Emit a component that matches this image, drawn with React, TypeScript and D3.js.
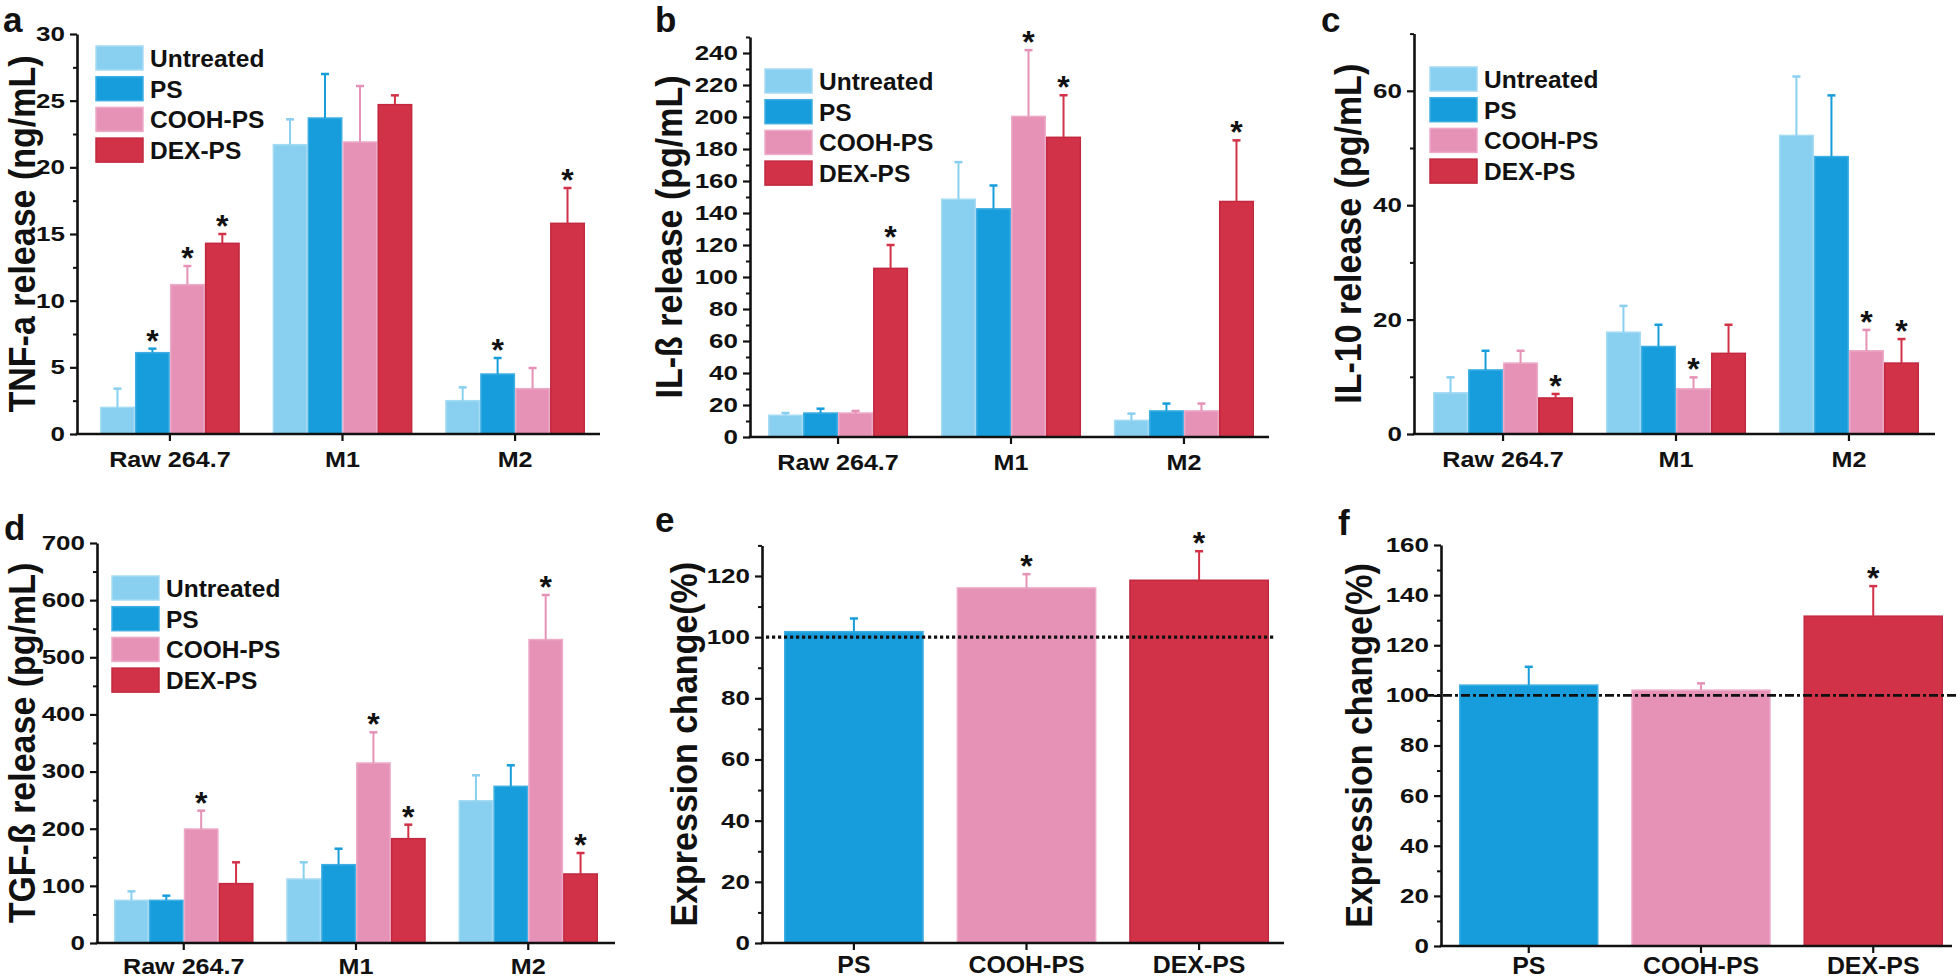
import React, { useEffect, useRef } from "react";
import * as d3 from "d3";

const groups = ["Raw 264.7", "M1", "M2"];
const treatments = ["Untreated", "PS", "COOH-PS", "DEX-PS"];
const fills = ["#89CFF0", "#179DDB", "#E592B6", "#D13248"];
const edges = ["#A6DBF4", "#3FAFE3", "#EEABC8", "#C22840"];

// a: TNF-a, rows = groups, cols = treatments
const tnfMean = [[2.0, 6.1, 11.2, 14.3], [21.7, 23.7, 21.9, 24.7], [2.5, 4.5, 3.4, 15.8]];
const tnfErr = [[1.4, 0.3, 1.4, 0.7], [1.9, 3.3, 4.2, 0.7], [1.0, 1.2, 1.55, 2.65]];
const tnfSig = [[0, 1, 1, 1], [0, 0, 0, 0], [0, 1, 0, 1]];

// b: IL-ß
const ilbMean = [[13.6, 15, 15, 105.4], [148.6, 142.6, 200.4, 187.3], [10.4, 16.3, 16.3, 147.2]];
const ilbErr = [[1.4, 2.7, 1.3, 14.6], [23.2, 14.6, 41.4, 26.3], [4.2, 4.6, 4.6, 38.2]];
const ilbSig = [[0, 0, 0, 1], [0, 0, 1, 1], [0, 0, 0, 1]];

// c: IL-10
const il10Mean = [[7.2, 11.2, 12.4, 6.3], [17.8, 15.3, 7.9, 14.1], [52.2, 48.5, 14.55, 12.4]];
const il10Err = [[2.7, 3.35, 2.15, 0.7], [4.6, 3.8, 2.0, 5.0], [10.3, 10.7, 3.65, 4.2]];
const il10Sig = [[0, 0, 0, 1], [0, 0, 1, 0], [0, 0, 1, 1]];

// d: TGF-ß
const tgfMean = [[74.7, 74.7, 199.5, 103.9], [112, 137.1, 315, 182.6], [249, 274.2, 531, 120.8]];
const tgfErr = [[15.7, 8.1, 32.1, 37.3], [29.2, 27.9, 53.7, 24.5], [44.5, 36.8, 78, 36.7]];
const tgfSig = [[0, 0, 1, 0], [0, 0, 1, 1], [0, 0, 1, 1]];

// e, f: expression change
const expCats = ["PS", "COOH-PS", "DEX-PS"];
const expColor = [1, 2, 3];
const eMean = [101.8, 116.1, 118.6];
const eErr = [4.3, 4.5, 9.5];
const eSig = [0, 1, 1];
const fMean = [104.1, 102.1, 131.6];
const fErr = [7.3, 2.7, 12.0];
const fSig = [0, 0, 1];

const FONT = "'Liberation Sans', Arial, sans-serif";

const panels = [
  { letter: "a", title: "TNF-a release (ng/mL)", cats: groups, mean: tnfMean, err: tnfErr, sig: tnfSig, grouped: true,
    max: 30, major: 5, minor: 2.5, x0: 77, x1: 600, y0: 434, yTop: 34, band: [100, 585], legend: [96, 46],
    titleX: 35, letterX: 3, letterY: 32, labelY: 33 },
  { letter: "b", title: "IL-ß release (pg/mL)", cats: groups, mean: ilbMean, err: ilbErr, sig: ilbSig, grouped: true,
    max: 250, major: 20, minor: 10, x0: 750, x1: 1269, y0: 437, yTop: 37, band: [768, 1254], legend: [765, 69],
    titleX: 682, letterX: 655, letterY: 32, labelY: 33 },
  { letter: "c", title: "IL-10 release (pg/mL)", cats: groups, mean: il10Mean, err: il10Err, sig: il10Sig, grouped: true,
    max: 70, major: 20, minor: 10, x0: 1414, x1: 1935, y0: 434, yTop: 33.6, band: [1433, 1919], legend: [1430, 67],
    titleX: 1361, letterX: 1321, letterY: 32, labelY: 33 },
  { letter: "d", title: "TGF-ß release (pg/mL)", cats: groups, mean: tgfMean, err: tgfErr, sig: tgfSig, grouped: true,
    max: 700, major: 100, minor: 50, x0: 97, x1: 615, y0: 943, yTop: 543, band: [114, 598], legend: [112, 576],
    titleX: 35, letterX: 4, letterY: 540, labelY: 31 },
  { letter: "e", title: "Expression change(%)", cats: expCats, mean: eMean, err: eErr, sig: eSig, grouped: false,
    max: 130, major: 20, minor: 10, x0: 762, x1: 1284, y0: 943, yTop: 545.4, band: [784, 1269], legend: null,
    titleX: 697, letterX: 655, letterY: 532, labelY: 30,
    refLine: "3.2 2.8", refWidth: 3.2, refFrom: 766, refTo: 1274 },
  { letter: "f", title: "Expression change(%)", cats: expCats, mean: fMean, err: fErr, sig: fSig, grouped: false,
    max: 160, major: 20, minor: 10, x0: 1441, x1: 1952, y0: 946, yTop: 545, band: [1459, 1943], legend: null,
    titleX: 1372, letterX: 1338, letterY: 535, labelY: 28,
    refLine: "9 3 3 3", refWidth: 2.6, refFrom: 1425, refTo: 1958 },
];

function drawPanel(svg: any, p: any) {
  const g = svg.append("g");
  const y = d3.scaleLinear().domain([0, p.max]).range([p.y0, p.yTop]);
  const x = d3.scaleBand<string>().domain(p.cats).range(p.band).paddingInner(0.19).paddingOuter(0);
  const n = p.grouped ? treatments.length : 1;
  const xs = d3.scaleBand<number>().domain(d3.range(n)).range([0, x.bandwidth()]);

  const bars: any[] = [];
  p.cats.forEach((c: string, i: number) => {
    if (p.grouped) {
      treatments.forEach((t, j) => bars.push({ c, j, col: j, v: p.mean[i][j], e: p.err[i][j], s: p.sig[i][j] }));
    } else {
      bars.push({ c, j: 0, col: expColor[i], v: p.mean[i], e: p.err[i], s: p.sig[i] });
    }
  });

  // bars
  g.selectAll("rect.bar")
    .data(bars)
    .enter()
    .append("rect")
    .attr("x", (d: any) => (x(d.c) as number) + (xs(d.j) as number) + 0.75)
    .attr("width", xs.bandwidth() - 1.5)
    .attr("y", (d: any) => y(d.v))
    .attr("height", (d: any) => y(0) - y(d.v))
    .attr("fill", (d: any) => fills[d.col])
    .attr("stroke", (d: any) => edges[d.col])
    .attr("stroke-width", 1.5);

  const cx = (d: any) => (x(d.c) as number) + (xs(d.j) as number) + xs.bandwidth() / 2;

  // error bars (upper only)
  const eb = g.selectAll("g.err").data(bars).enter().append("g");
  eb.append("line")
    .attr("x1", cx).attr("x2", cx)
    .attr("y1", (d: any) => y(d.v)).attr("y2", (d: any) => y(d.v + d.e))
    .attr("stroke", (d: any) => fills[d.col])
    .attr("stroke-width", 2);
  eb.append("line")
    .attr("x1", (d: any) => cx(d) - 4).attr("x2", (d: any) => cx(d) + 4)
    .attr("y1", (d: any) => y(d.v + d.e)).attr("y2", (d: any) => y(d.v + d.e))
    .attr("stroke", (d: any) => fills[d.col])
    .attr("stroke-width", 2.5);

  // significance stars
  g.selectAll("text.star")
    .data(bars.filter((d) => d.s))
    .enter()
    .append("text")
    .attr("x", cx)
    .attr("y", (d: any) => y(d.v + d.e) + 3)
    .attr("text-anchor", "middle")
    .attr("fill", "#111")
    .attr("font-family", FONT)
    .attr("font-weight", "bold")
    .attr("font-size", 32)
    .text("*");

  // reference line at 100
  if (p.refLine) {
    g.append("line")
      .attr("x1", p.refFrom).attr("x2", p.refTo)
      .attr("y1", y(100)).attr("y2", y(100))
      .attr("stroke", "#111")
      .attr("stroke-width", p.refWidth)
      .attr("stroke-dasharray", p.refLine);
  }

  // y axis
  const majors = d3.range(0, p.max + 1e-9, p.major);
  const minors = d3.range(0, p.max + 1e-9, p.minor).filter((v) => !majors.some((m) => Math.abs(m - v) < 1e-9));
  const sx = 1.3;
  const yAxis = g.append("g")
    .attr("transform", `translate(${p.x0},0)`)
    .call(d3.axisLeft(y).tickValues(majors).tickSize(7).tickSizeOuter(0).tickPadding(5));
  yAxis.select(".domain").attr("stroke-width", 2.6).attr("stroke", "#111");
  yAxis.selectAll(".tick line").attr("stroke-width", 2.2).attr("stroke", "#111");
  yAxis.selectAll(".tick text")
    .attr("x", -12 / sx)
    .attr("transform", `scale(${sx},1)`)
    .attr("fill", "#111")
    .attr("font-family", FONT)
    .attr("font-weight", "bold")
    .attr("font-size", 20);
  const yMinor = g.append("g")
    .attr("transform", `translate(${p.x0},0)`)
    .call(d3.axisLeft(y).tickValues(minors).tickSize(4).tickFormat(() => ""));
  yMinor.select(".domain").remove();
  yMinor.selectAll(".tick line").attr("stroke-width", 2).attr("stroke", "#111");

  // x axis
  const xAxis = g.append("g")
    .attr("transform", `translate(0,${p.y0})`)
    .call(d3.axisBottom(x).tickSize(7).tickSizeOuter(0));
  xAxis.select(".domain").remove();
  xAxis.selectAll(".tick line").attr("stroke-width", 2.2).attr("stroke", "#111");
  const cs = p.grouped ? 1.17 : 1.06;
  xAxis.selectAll(".tick text")
    .attr("y", p.labelY)
    .attr("dy", 0)
    .attr("transform", `scale(${cs},1)`)
    .attr("fill", "#111")
    .attr("font-family", FONT)
    .attr("font-weight", "bold")
    .attr("font-size", p.grouped ? 21.5 : 23.5);
  g.append("line")
    .attr("x1", p.x0 - 1.3).attr("x2", p.x1)
    .attr("y1", p.y0).attr("y2", p.y0)
    .attr("stroke", "#111")
    .attr("stroke-width", 2.6);

  // legend
  if (p.legend) {
    const [lx, ly] = p.legend;
    const lg = g.append("g").attr("transform", `translate(${lx},${ly})`);
    const row = lg.selectAll("g").data(treatments).enter().append("g")
      .attr("transform", (_d: string, i: number) => `translate(0,${i * 30.7})`);
    row.append("rect")
      .attr("width", 47).attr("height", 24)
      .attr("fill", (_d: string, i: number) => fills[i])
      .attr("stroke", (_d: string, i: number) => edges[i])
      .attr("stroke-width", 1.5);
    row.append("text")
      .attr("x", 54).attr("y", 21)
      .attr("fill", "#111")
      .attr("font-family", FONT)
      .attr("font-weight", "bold")
      .attr("font-size", 24.5)
      .text((d: string) => d);
  }

  // y title
  g.append("text")
    .attr("transform", `translate(${p.titleX},${(p.y0 + p.yTop) / 2}) scale(1.08,1) rotate(-90)`)
    .attr("text-anchor", "middle")
    .attr("fill", "#111")
    .attr("font-family", FONT)
    .attr("font-weight", "bold")
    .attr("font-size", 34)
    .text(p.title);

  // panel letter
  g.append("text")
    .attr("x", p.letterX).attr("y", p.letterY)
    .attr("fill", "#111")
    .attr("font-family", FONT)
    .attr("font-weight", "bold")
    .attr("font-size", 35)
    .text(p.letter);
}

export default function App() {
  const ref = useRef<SVGSVGElement | null>(null);

  useEffect(() => {
    const svg = d3.select(ref.current);
    svg.selectAll("*").remove();
    panels.forEach((p) => drawPanel(svg, p));
  }, []);

  return (
    <svg
      ref={ref}
      width={1960}
      height={980}
      style={{ position: "absolute", left: 0, top: 0, background: "#fff" }}
    />
  );
}
